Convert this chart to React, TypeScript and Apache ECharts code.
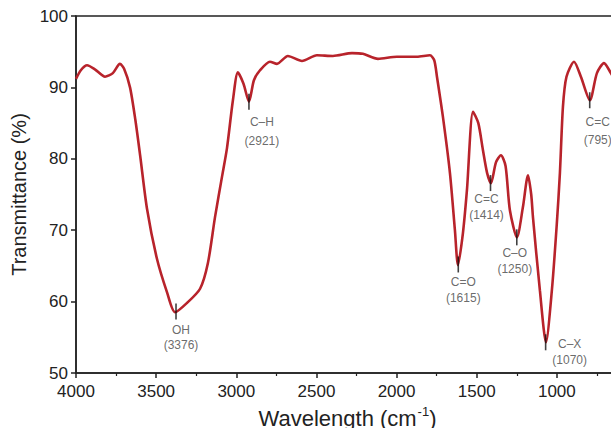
import React, { useEffect, useRef } from "react";
import * as echarts from "echarts";

const wavenumbers = [
  4000, 3970, 3931, 3880, 3819, 3770, 3726, 3700, 3663, 3630, 3600, 3557, 3495, 3432, 3382,
  3308, 3226, 3177, 3133, 3089, 3058, 3021, 2990, 2955, 2921, 2890, 2852, 2790, 2746, 2678,
  2590, 2497, 2397, 2278, 2210, 2116, 1998, 1873, 1792, 1765, 1748, 1711, 1667, 1636, 1617,
  1586, 1561, 1523, 1490, 1461, 1435, 1411, 1380, 1349, 1320, 1293, 1249, 1212, 1180, 1160,
  1149, 1106, 1068, 1031, 1000, 981, 962, 940, 893, 850, 794, 750, 706, 663, 600,
];
const transmittance = [
  91.2, 92.4, 93.1, 92.5, 91.5, 92.0, 93.3, 92.6, 90.0, 85.5, 80.5, 73.0, 66.0, 61.3, 58.5,
  59.8, 61.8, 65.4, 71.8, 77.5, 81.5, 88.2, 92.1, 90.5, 88.0, 91.0, 92.4, 93.6, 93.3, 94.4,
  93.7, 94.5, 94.4, 94.8, 94.7, 94.0, 94.3, 94.3, 94.5, 93.8, 91.5, 85.9, 78.0, 70.0, 65.1,
  69.6, 75.6, 86.6, 85.0, 81.2, 78.0, 76.6, 79.5, 80.5, 79.0, 72.8, 69.0, 73.2, 77.7, 75.0,
  71.8, 61.6, 54.3, 61.6, 71.0, 78.0, 87.3, 91.5, 93.6, 91.5, 88.2, 92.0, 93.4, 92.0, 89.5,
];

const peakNames = ["OH", "C–H", "C=O", "C=C", "C–O", "C–X", "C=C"];
const peakWavenumbers = [3376, 2921, 1615, 1414, 1250, 1070, 795];
const peakValues = [58.6, 88.0, 65.2, 76.6, 69.0, 54.3, 88.2];
// label layout: [dx, dy, lineHeight]
const peakLabelLayout = [
  [5, 26, 15],
  [13, 30, 19],
  [5, 26, 16],
  [-4, 24, 16],
  [-2, 24, 16],
  [24, 10, 16],
  [8, 31, 18],
];

const xTicks = { min: 500, max: 4000, interval: 500 };
const yTicks = { min: 50, max: 100, interval: 10 };

export default function App() {
  const ref = useRef<HTMLDivElement>(null);
  useEffect(() => {
    if (!ref.current) return;
    const chart = echarts.init(ref.current, null, { renderer: "svg" });
    const font = "Liberation Sans, Arial, sans-serif";
    const lineData = wavenumbers.map((w, i) => [w, transmittance[i]]);
    const peakData = peakWavenumbers.map((w, i) => ({
      value: [w, peakValues[i]],
      label: {
        show: true,
        position: "inside",
        offset: [peakLabelLayout[i][0], peakLabelLayout[i][1]],
        formatter: `{a|${peakNames[i]}}\n{a|(${w})}`,
        rich: {
          a: {
            fontSize: 12,
            fontFamily: font,
            color: "#444",
            lineHeight: peakLabelLayout[i][2],
            align: "center",
          },
        },
      },
    }));
    chart.setOption({
      animation: false,
      grid: {
        left: 76,
        top: 16,
        right: 3,
        bottom: 55,
        outerBoundsMode: "none",
        containLabel: false,
        show: true,
        borderColor: "#222",
        borderWidth: 1.5,
        backgroundColor: "transparent",
      },
      xAxis: {
        type: "value",
        inverse: true,
        min: xTicks.min,
        max: xTicks.max,
        interval: xTicks.interval,
        name: "{a|Wavelength (cm}{b|-1}{a|)}",
        nameLocation: "middle",
        nameGap: 32,
        nameTextStyle: {
          padding: [0, 18, 0, 0],
          rich: {
            a: { fontSize: 22, fontFamily: font, color: "#222", verticalAlign: "bottom", lineHeight: 24 },
            b: { fontSize: 13, fontFamily: font, color: "#222", verticalAlign: "bottom", lineHeight: 24, padding: [0, 0, 11, 1] },
          },
        },
        axisLine: { lineStyle: { color: "#222", width: 1.5 } },
        axisTick: { show: true, inside: false, length: 5, lineStyle: { color: "#222", width: 1.5 } },
        minorTick: { show: true, splitNumber: 2, length: 3, lineStyle: { color: "#222", width: 1.2 } },
        axisLabel: {
          fontSize: 17,
          fontFamily: font,
          color: "#222",
          margin: 10,
          formatter: (v: number) => (v === xTicks.min ? "" : String(v)),
        },
        splitLine: { show: false },
      },
      yAxis: {
        type: "value",
        min: yTicks.min,
        max: yTicks.max,
        interval: yTicks.interval,
        name: "Transmittance (%)",
        nameLocation: "middle",
        nameGap: 44,
        nameTextStyle: { fontSize: 20, fontFamily: font, color: "#222" },
        axisLine: { show: true, lineStyle: { color: "#222", width: 1.5 } },
        axisTick: { show: true, inside: false, length: 5, lineStyle: { color: "#222", width: 1.5 } },
        axisLabel: { fontSize: 17, fontFamily: font, color: "#222", margin: 8 },
        splitLine: { show: false },
      },
      series: [
        {
          type: "line",
          data: lineData,
          smooth: 0.25,
          symbol: "none",
          lineStyle: { color: "#b8232b", width: 2.6 },
          z: 2,
        },
        {
          type: "scatter",
          data: peakData,
          symbol: "rect",
          symbolSize: [1.6, 16],
          itemStyle: { color: "#111" },
          z: 3,
        },
      ],
    });
    return () => chart.dispose();
  }, []);
  return (
    <div
      ref={ref}
      style={{ position: "fixed", left: 0, top: 0, width: 640, height: 428, background: "#fff" }}
    />
  );
}
